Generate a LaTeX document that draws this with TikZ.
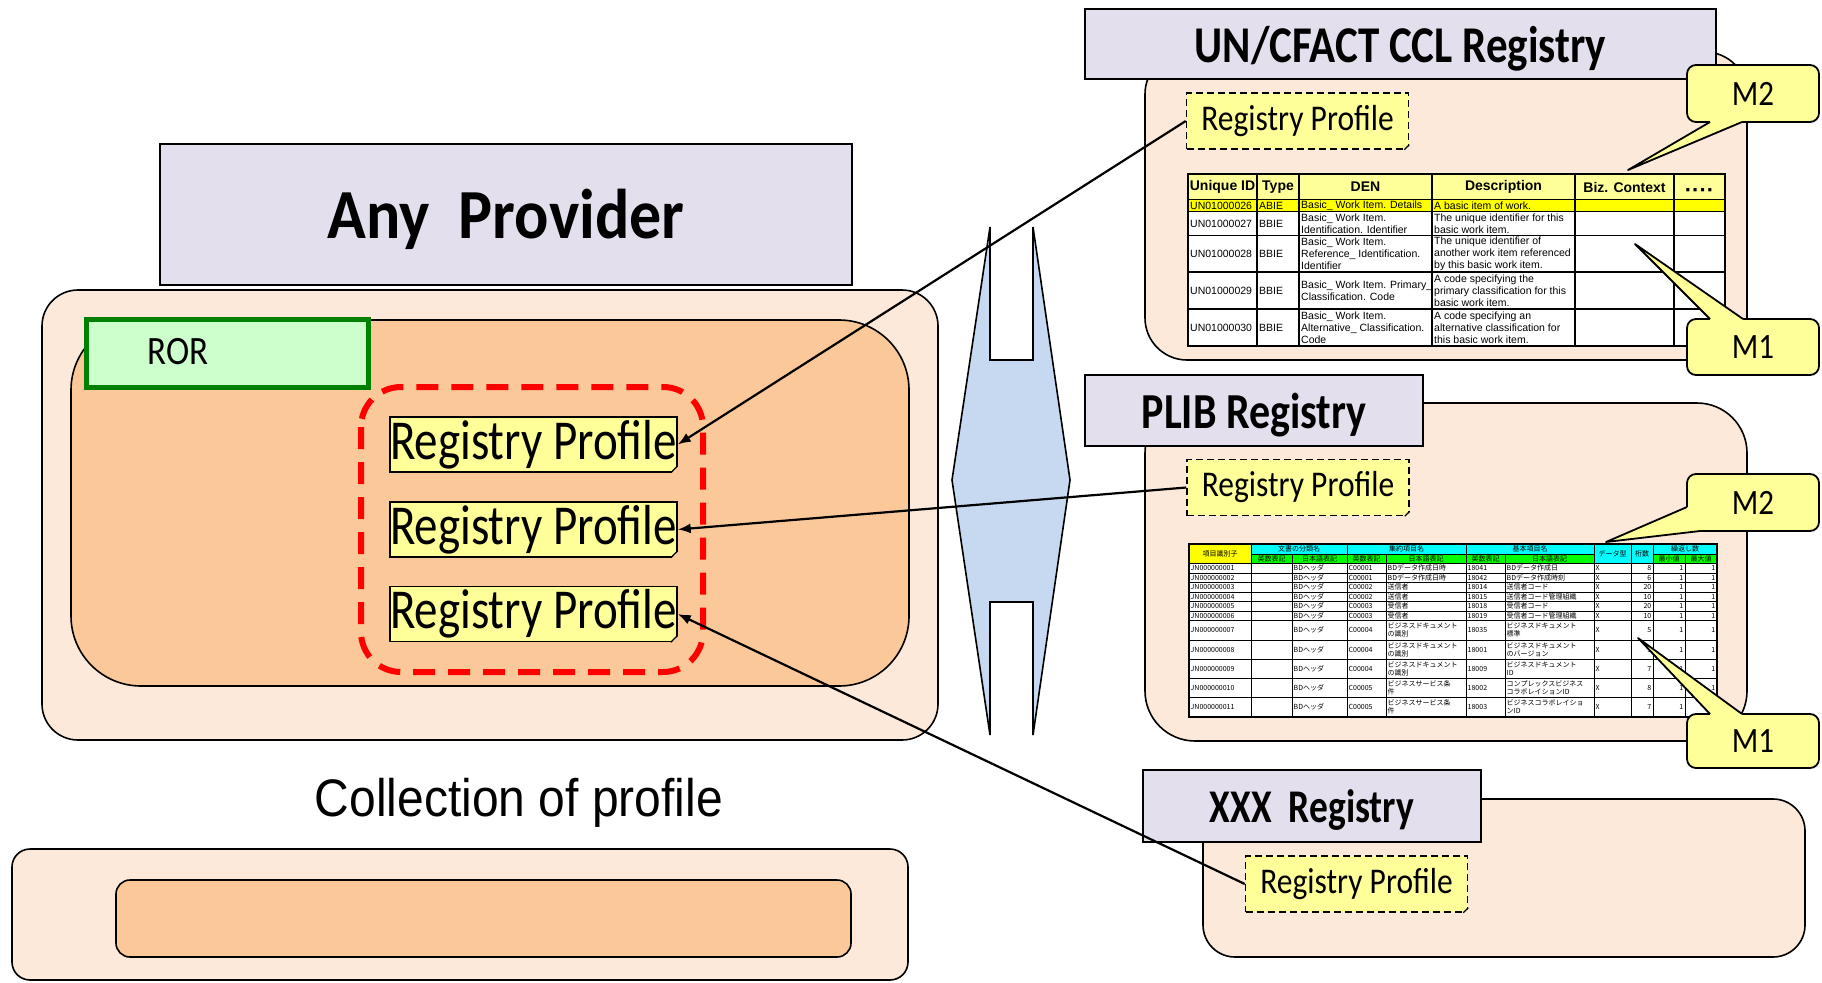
\documentclass[tikz,border=0pt]{standalone}
\usepackage{fontspec}
\usepackage{graphicx}
\usetikzlibrary{arrows.meta,calc}
\newfontfamily\carl{Carlito}
\newfontfamily\libs{Liberation Sans}
\newfontfamily\jpf{Noto Sans CJK JP}
\newcommand{\vs}[2][1.15]{\scalebox{1}[#1]{#2}}
\definecolor{lav}{RGB}{228,223,236}
\definecolor{peach}{RGB}{253,233,217}
\definecolor{orng}{RGB}{251,201,153}
\definecolor{rorfill}{RGB}{204,255,204}
\definecolor{rorline}{RGB}{0,128,0}
\definecolor{lyel}{RGB}{255,255,153}
\definecolor{hgblue}{RGB}{198,217,241}
\definecolor{yel}{RGB}{255,255,0}
\definecolor{cyn}{RGB}{0,255,255}
\definecolor{grn}{RGB}{0,255,0}
\newcommand{\rpfold}[3]{%
  \fill[#2] ($(#1.south east)+(-#3,1)$) -- ($(#1.south east)+(1,1)$) -- ($(#1.south east)+(1,-#3)$) -- cycle;
  \draw[line width=1.2pt] ($(#1.south east)+(-#3,0)$) -- ($(#1.south east)+(0,-#3)$);}
\tikzset{
  hdrbox/.style={draw=black, line width=1.6pt, fill=lav, inner sep=0pt},
  hdrtxt/.style={inner sep=0pt, yshift=-5pt},
  bodyA/.style={draw=black, line width=1.6pt, fill=peach},
  bodyB/.style={draw=black, line width=1.6pt, fill=orng},
  bigrp/.style={draw=black, line width=1.6pt, fill=lyel, inner sep=0pt, minimum width=281pt, minimum height=55pt, font=\carl\fontsize{47}{50}\selectfont},
  smallrp/.style={draw=black, line width=1.5pt, dash pattern=on 7pt off 4pt, fill=lyel, inner sep=0pt, minimum width=222pt, minimum height=56pt, font=\carl\fontsize{31.5}{34}\selectfont},
  callout/.style={draw=black, line width=1.8pt, fill=lyel, rounded corners=9pt, inner sep=0pt, minimum width=132pt, font=\carl\fontsize{31}{34}\selectfont},
  wedge/.style={draw=black, line width=1.8pt, line join=round},
  conn/.style={line width=2.2pt, -{Latex[length=13pt,width=10pt]}},
  cclh/.style={font=\libs\bfseries\fontsize{14}{16}\selectfont, inner sep=0pt},
  cclc/.style={font=\libs\fontsize{10.5}{11.8}\selectfont, inner sep=0pt, align=left, anchor=west},
  pc/.style={font=\jpf\fontsize{7}{8}\selectfont, inner sep=0pt, align=left, anchor=west},
  pcr/.style={font=\jpf\fontsize{7}{8}\selectfont, inner sep=0pt, align=right, anchor=east},
  ph/.style={font=\jpf\fontsize{7}{8}\selectfont, inner sep=0pt},
  grid/.style={draw=black, line width=1pt},
}
\begin{document}
\begin{tikzpicture}[x=1pt,y=-1pt]
\useasboundingbox (0,0) rectangle (1822,982);
\fill[white] (0,0) rectangle (1822,982);

% ---------------- Any Provider ----------------
\draw[bodyA, rounded corners=36pt] (42,290) rectangle (938,740);
\draw[bodyB, rounded corners=70pt] (71,320) rectangle (909,686);
\node[draw=rorline, line width=5pt, fill=rorfill, minimum width=282pt, minimum height=68pt, anchor=north west, inner sep=0pt] (ror) at (84,317) {};
\node[font=\carl\fontsize{35}{38}\selectfont, inner sep=0pt] (rortxt) at (178,352) {\vs{ROR}};
\node[bigrp] (rp1) at (533.5,444.5) {\vs[1.2]{Registry Profile}};
\node[bigrp] (rp2) at (533.5,529.5) {\vs[1.2]{Registry Profile}};
\node[bigrp] (rp3) at (533.5,614) {\vs[1.2]{Registry Profile}};
\rpfold{rp1}{orng}{7}
\rpfold{rp2}{orng}{7}
\rpfold{rp3}{orng}{7}
\draw[red, line width=6pt, dash pattern=on 22pt off 13pt, rounded corners=40pt] (361,387) rectangle (703,672);
\node[hdrbox, minimum width=692pt, minimum height=141pt] (hAny) at (506,214.5) {};
\node[hdrtxt, font=\carl\bfseries\fontsize{64}{68}\selectfont] (tAny) at (hAny.center) {\vs[1.1]{Any~~Provider}};

\node[font=\libs\fontsize{48}{52}\selectfont, inner sep=0pt] (coll) at (519,803) {\vs[1.1]{Collection of profile}};
\draw[bodyA, rounded corners=18pt] (12,849) rectangle (908,980);
\draw[bodyB, rounded corners=14pt] (116,880) rectangle (851,957);

% ---------------- hourglass ----------------
\draw[line width=1.6pt, fill=hgblue] (990,227) -- (990,360) -- (1033,360) -- (1033,227) -- (1070,480) -- (1033,735) -- (1033,602) -- (990,602) -- (990,735) -- (952,480) -- cycle;

% ---------------- UN/CEFACT CCL Registry ----------------
\draw[bodyA, rounded corners=42pt] (1145,52) rectangle (1747,360);
\node[hdrbox, minimum width=631pt, minimum height=70pt] (hCCL) at (1400.5,44) {};
\node[hdrtxt, font=\carl\bfseries\fontsize{43}{47}\selectfont] (tCCL) at (hCCL.center) {\vs[1.2]{UN/CFACT CCL Registry}};
\node[smallrp] (cclrp) at (1297.5,121) {\vs{Registry Profile}};
\rpfold{cclrp}{peach}{5}

\fill[lyel] (1188,174) rectangle (1725,199.6);
\fill[yel] (1188,199.6) rectangle (1725,211.5);
\fill[white] (1188,211.5) rectangle (1725,346);
\foreach \yy in {199.6,211.5,235.4,271.9,309.1} \draw[line width=1.4pt] (1188,\yy) -- (1725,\yy);
\foreach \xx in {1257,1299,1432,1575,1674} \draw[line width=1.4pt] (\xx,174) -- (\xx,346);
\draw[line width=2.4pt] (1188,174) rectangle (1725,346);
\node[cclh] (ch1) at (1222.5,187) {Unique ID};
\node[cclh] (ch2) at (1278,187) {Type};
\node[cclh] (ch3) at (1365.5,187) {DEN};
\node[cclh] (ch4) at (1503.5,187) {Description};
\node[cclh] (ch5) at (1624.5,187) {Biz. Context};
\node[cclh, font=\libs\bfseries\fontsize{22}{24}\selectfont] (ch6) at (1699.5,193) {····};
\foreach \yc/\id/\ty/\den/\desc [count=\i] in {
 205.5/UN01000026/ABIE/{Basic\_ Work Item. Details}/{A basic item of work.},
 223.5/UN01000027/BBIE/{Basic\_ Work Item.\\Identification. Identifier}/{The unique identifier for this\\basic work item.},
 253.6/UN01000028/BBIE/{Basic\_ Work Item.\\Reference\_ Identification.\\Identifier}/{The unique identifier of\\another work item referenced\\by this basic work item.},
 290.5/UN01000029/BBIE/{Basic\_ Work Item. Primary\_\\Classification. Code}/{A code specifying the\\primary classification for this\\basic work item.},
 327.5/UN01000030/BBIE/{Basic\_ Work Item.\\Alternative\_ Classification.\\Code}/{A code specifying an\\alternative classification for\\this basic work item.}}
{
 \node[cclc] (cr\i-a) at (1190,\yc) {\id};
 \node[cclc] (cr\i-b) at (1259,\yc) {\ty};
 \node[cclc] (cr\i-c) at (1301,\yc) {\den};
 \node[cclc] (cr\i-d) at (1434,\yc) {\desc};
}

\node[callout, minimum height=57pt] (cm2) at (1753,93.5) {\vs{M2}};
\fill[lyel] (1710,118) -- (1710,122) -- (1628,170) -- (1742,122) -- (1742,118) -- cycle;
\draw[wedge] (1710,122) -- (1628,170) -- (1742,122);
\node[callout, minimum height=56pt] (cm1) at (1753,347) {\vs{M1}};
\fill[lyel] (1710,323) -- (1710,319) -- (1635,244) -- (1743,319) -- (1743,323) -- cycle;
\draw[wedge] (1710,319) -- (1635,244) -- (1743,319);

% ---------------- PLIB Registry ----------------
\draw[bodyA, rounded corners=50pt] (1145,403) rectangle (1747,741);
\node[hdrbox, minimum width=338pt, minimum height=71pt] (hPLIB) at (1254,410.5) {};
\node[hdrtxt, font=\carl\bfseries\fontsize{42}{46}\selectfont] (tPLIB) at (hPLIB.center) {\vs[1.2]{PLIB Registry}};
\node[smallrp] (plibrp) at (1298,487.5) {\vs{Registry Profile}};
\rpfold{plibrp}{peach}{5}

\fill[white] (1189,563.5) rectangle (1717,717);
\fill[yel] (1189,544) rectangle (1251,563.5);
\fill[cyn] (1251,544) rectangle (1594,554);
\fill[grn] (1251,554) rectangle (1594,563.5);
\fill[cyn] (1594,544) rectangle (1653,563.5);
\fill[cyn] (1653,544) rectangle (1717,554);
\fill[grn] (1653,554) rectangle (1717,563.5);
\draw[grid] (1251,554) -- (1594,554) (1653,554) -- (1717,554) (1189,563.5) -- (1717,563.5);
\foreach \xx in {1251,1347,1466,1594,1631,1653} \draw[grid] (\xx,544) -- (\xx,717);
\foreach \xx in {1292,1386,1505,1685} \draw[grid] (\xx,554) -- (\xx,717);
\node[ph] (ph1) at (1220,553.75) {項目識別子};
\node[ph] (ph2) at (1299,549) {文書の分類名};
\node[ph] (ph3) at (1406.5,549) {集約項目名};
\node[ph] (ph4) at (1530,549) {基本項目名};
\node[ph] (ph5) at (1612.5,553.75) {データ型};
\node[ph] (ph6) at (1642,553.75) {桁数};
\node[ph] (ph7) at (1685,549) {繰返し数};
\node[ph] (ps1) at (1271.5,558.75) {英数表記};
\node[ph] (ps2) at (1319.5,558.75) {日本語表記};
\node[ph] (ps3) at (1366.5,558.75) {英数表記};
\node[ph] (ps4) at (1426,558.75) {日本語表記};
\node[ph] (ps5) at (1485.5,558.75) {英数表記};
\node[ph] (ps6) at (1549.5,558.75) {日本語表記};
\node[ph] (ps7) at (1669,558.75) {最小値};
\node[ph] (ps8) at (1701,558.75) {最大値};
\foreach \ya/\yb/\id/\cc/\cn/\ec/\en/\k [count=\i] in {
 563.5/573/JN000000001/C00001/BDデータ作成日時/18041/BDデータ作成日/8,
 573/582.5/JN000000002/C00001/BDデータ作成日時/18042/BDデータ作成時刻/6,
 582.5/592/JN000000003/C00002/送信者/18014/送信者コード/20,
 592/601.5/JN000000004/C00002/送信者/18015/送信者コード管理組織/10,
 601.5/611/JN000000005/C00003/受信者/18018/受信者コード/20,
 611/620.5/JN000000006/C00003/受信者/18019/受信者コード管理組織/10,
 620.5/640/JN000000007/C00004/{ビジネスドキュメント\\の識別}/18035/{ビジネスドキュメント\\標準}/5,
 640/659/JN000000008/C00004/{ビジネスドキュメント\\の識別}/18001/{ビジネスドキュメント\\のバージョン}/1,
 659/678/JN000000009/C00004/{ビジネスドキュメント\\の識別}/18009/{ビジネスドキュメント\\ID}/7,
 678/697/JN000000010/C00005/{ビジネスサービス条\\件}/18002/{コンプレックスビジネス\\コラボレイションID}/8,
 697/717/JN000000011/C00005/{ビジネスサービス条\\件}/18003/{ビジネスコラボレイショ\\ンID}/7}
{
 \pgfmathsetmacro{\yc}{(\ya+\yb)/2}
 \node[pc] (p\i-a) at (1190.5,\yc) {\id};
 \node[pc] (p\i-c) at (1293.5,\yc) {BDヘッダ};
 \node[pc] (p\i-d) at (1348.5,\yc) {\cc};
 \node[pc] (p\i-e) at (1387.5,\yc) {\cn};
 \node[pc] (p\i-f) at (1467.5,\yc) {\ec};
 \node[pc] (p\i-g) at (1506.5,\yc) {\en};
 \node[pc] (p\i-h) at (1595.5,\yc) {X};
 \node[pcr] (p\i-i) at (1651.5,\yc) {\k};
 \node[pcr] (p\i-j) at (1683.5,\yc) {1};
 \node[pcr] (p\i-k) at (1715.5,\yc) {1};
 \draw[grid] (1189,\yb) -- (1717,\yb);
}
\draw[line width=1.4pt] (1189,544) rectangle (1717,717);

\node[callout, minimum height=57pt] (pm2) at (1753,502.5) {\vs{M2}};
\fill[lyel] (1691,507) -- (1687,507) -- (1606,542) -- (1700,531) -- (1700,527) -- (1691,527) -- cycle;
\draw[wedge] (1687,507) -- (1606,542) -- (1700,531);
\node[callout, minimum height=54pt] (pm1) at (1753,741) {\vs{M1}};
\fill[lyel] (1710,718) -- (1710,714) -- (1638,638) -- (1742,714) -- (1742,718) -- cycle;
\draw[wedge] (1710,714) -- (1638,638) -- (1742,714);

% ---------------- XXX Registry ----------------
\draw[bodyA, rounded corners=32pt] (1203,799) rectangle (1805,957);
\node[hdrbox, minimum width=338pt, minimum height=72pt] (hXXX) at (1312,806) {};
\node[hdrtxt, yshift=1pt, font=\carl\bfseries\fontsize{37.5}{41}\selectfont] (tXXX) at (hXXX.center) {\vs[1.25]{XXX~~Registry}};
\node[smallrp] (xxxrp) at (1356.5,884) {\vs{Registry Profile}};
\rpfold{xxxrp}{peach}{5}

% ---------------- connectors ----------------
\draw[conn] (cclrp.west) -- (rp1.east);
\draw[conn] (plibrp.west) -- (rp2.east);
\draw[conn] (xxxrp.west) -- (rp3.east);
\end{tikzpicture}
\end{document}
